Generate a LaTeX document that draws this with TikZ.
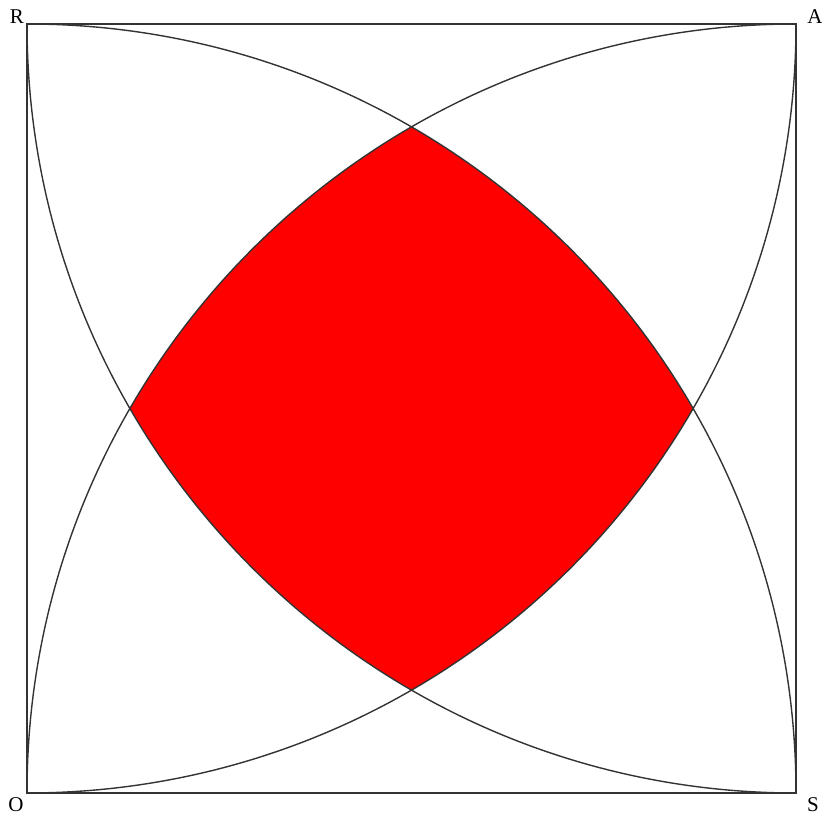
\documentclass[tikz,border=0pt]{standalone}
\usepackage{fontspec}
\setmainfont{Liberation Serif}
\begin{document}
\begin{tikzpicture}[x=1pt,y=1pt,
  edge/.style={draw=black!80,line width=1.4pt},
  corner/.style={inner sep=0pt,font=\fontsize{21}{24}\selectfont}]
  \useasboundingbox (-27,-24) rectangle (795,793);
  % the square and its four corners
  \coordinate (O) at (0,0);
  \coordinate (S) at (769,0);
  \coordinate (A) at (769,769);
  \coordinate (R) at (0,769);
  % common part of the four discs
  \begin{scope}
    \clip (O) circle[radius=769pt];
    \clip (S) circle[radius=769pt];
    \clip (A) circle[radius=769pt];
    \clip (R) circle[radius=769pt];
    \fill[red] (O) rectangle (A);
  \end{scope}
  \draw[edge] (O) rectangle (A);
  \draw[edge] (S) arc[start angle=0,end angle=90,radius=769pt];
  \draw[edge] (O) arc[start angle=180,end angle=90,radius=769pt];
  \draw[edge] (S) arc[start angle=270,end angle=180,radius=769pt];
  \draw[edge] (A) arc[start angle=0,end angle=-90,radius=769pt];
  \node[corner] (lR) at (-10,776) {R};
  \node[corner] (lA) at (788,776) {A};
  \node[corner] (lO) at (-11,-12) {O};
  \node[corner] (lS) at (786,-12) {S};
\end{tikzpicture}
\end{document}
